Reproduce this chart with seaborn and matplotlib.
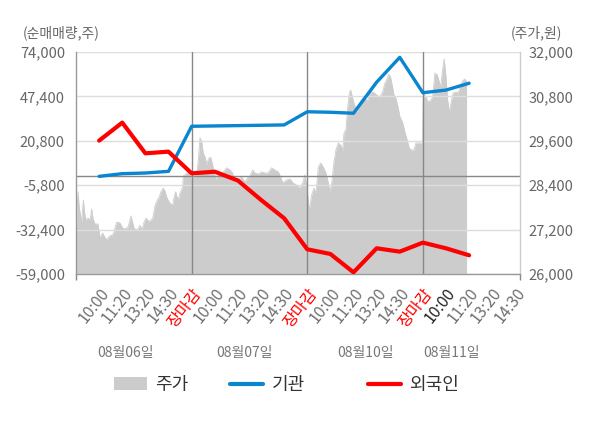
import matplotlib
matplotlib.use('Agg')
import matplotlib.pyplot as plt
import matplotlib.transforms as mtransforms
from matplotlib.patches import Patch
from matplotlib.lines import Line2D
import seaborn as sns

# ---------------- data ----------------
tick_labels = ['10:00', '11:20', '13:20', '14:30', '장마감'] * 3 + ['10:00', '11:20', '13:20', '14:30']
date_labels = ['08월06일', '08월07일', '08월10일', '08월11일']

left_ticks = [-59000, -32400, -5800, 20800, 47400, 74000]
right_ticks = [26000, 27200, 28400, 29600, 30800, 32000]

# net buying (shares) sampled at each time slot
flow_pos = list(range(1, 18))
inst = [-500, 1100, 1500, 2500, 29500, 29700, 29900, 30100, 30300,
        38200, 37900, 37300, 55900, 70800, 49600, 51200, 55300]
foreign = [20900, 31700, 13300, 14300, 1300, 2300, -3000, -14600, -25600,
           -44200, -47000, -58000, -43600, -45600, -40200, -43600, -47800]

# share price (won) along the time slots
price_pos = [0.00, 0.04, 0.09, 0.13, 0.17, 0.24, 0.32, 0.37, 0.43, 0.52, 0.61, 0.68, 0.73, 0.82, 0.95,
             1.01, 1.04, 1.15, 1.21, 1.33, 1.38, 1.50, 1.56, 1.64, 1.76, 1.90, 2.02, 2.08, 2.19, 2.25,
             2.38, 2.42, 2.51, 2.62, 2.68, 2.77, 2.85, 2.94, 3.03, 3.13, 3.20, 3.32, 3.42, 3.52, 3.60,
             3.67, 3.77, 3.85, 3.92, 3.98, 4.06, 4.18, 4.25, 4.31, 4.37, 4.42, 4.50, 4.61, 4.64, 4.71,
             4.79, 4.86, 4.91,
             4.97, 5.10, 5.22, 5.29, 5.36, 5.43, 5.50, 5.58, 5.65, 5.72, 5.82, 5.89, 5.97, 6.05, 6.15,
             6.26, 6.37, 6.52, 6.66, 6.77, 6.87, 7.02, 7.16, 7.31, 7.41, 7.52, 7.64, 7.74, 7.88, 8.03,
             8.17, 8.31, 8.46, 8.60, 8.75, 8.85, 8.94, 9.11, 9.25, 9.39, 9.54, 9.68, 9.80, 9.90, 9.97,
             10.04, 10.09, 10.19, 10.29, 10.38, 10.48, 10.58, 10.69, 10.81, 10.91, 10.98, 11.06, 11.15,
             11.24, 11.34, 11.44, 11.53, 11.59, 11.67, 11.75, 11.82, 11.88, 11.95, 12.02, 12.14, 12.25,
             12.35, 12.49, 12.59, 12.71, 12.85, 13.00, 13.14, 13.26, 13.36, 13.43, 13.53, 13.61, 13.69,
             13.75, 13.83, 13.93, 14.01, 14.08, 14.15, 14.22, 14.32, 14.41, 14.51, 14.61, 14.70, 14.83,
             14.98,
             15.02, 15.13, 15.23, 15.34, 15.42, 15.52, 15.62, 15.71, 15.77, 15.85, 15.92, 16.00, 16.07,
             16.14, 16.24, 16.31, 16.43, 16.53, 16.60, 16.72, 16.82, 16.89]
price = [26650, 27590, 28220, 27860, 27680, 27400, 28000, 27650, 27460, 27510, 27460, 27760, 27510, 27350, 27350,
         27110, 26970, 27110, 27030, 26920, 26970, 27050, 27030, 27140, 27400, 27380, 27240, 27220, 27240, 27270,
         27570, 27460, 27240, 27190, 27220, 27320, 27190, 27400, 27510, 27430, 27430, 27510, 27860, 28000, 28080,
         28220, 28320, 28240, 28080, 28000, 27920, 27860, 28110, 28220, 28080, 28000, 28190, 28350, 28650, 28680,
         28730, 28810, 28650,
         28590, 28620, 28680, 29080, 29680, 29590, 29270, 29160, 28950, 29110, 29160, 29000, 28760, 28540, 28680,
         28620, 28760, 28870, 28810, 28730, 28490, 28570, 28620, 28490, 28590, 28650, 28810, 28730, 28700, 28760,
         28730, 28730, 28870, 28810, 28760, 28620, 28460, 28540, 28570, 28460, 28400, 28320, 28460, 28680, 28400,
         28000, 27730, 28140, 28320, 28190, 28890, 29000, 28890, 28730, 28460, 28220, 28460, 29000,
         29350, 29540, 29490, 29350, 29810, 29890, 30510, 30890, 30970, 30780, 30620, 30380, 30570,
         30700, 30780, 30650, 30890, 30920, 30840, 30780, 30920, 31160, 31240, 31400, 31300, 31050,
         30840, 30760, 30490, 30240, 30160, 30030, 29840, 29620, 29400, 29350, 29350, 29540, 29540,
         29540,
         30920, 30780, 30650, 30700, 30780, 31430, 31380, 31190, 31050, 31510, 31810, 31320, 30700,
         30380, 30700, 30890, 30920, 30890, 31050, 31220, 31270, 31190]

# ---------------- style ----------------
sns.set_theme(style='white')
plt.rcParams['font.family'] = ['Noto Sans CJK KR', 'DejaVu Sans']

BLUE = '#0a85cf'
RED = '#ff0000'
AREA = '#cccccc'
TXT = '#666666'

fig = plt.figure(figsize=(6, 4.28), dpi=100)
fig.patch.set_facecolor('white')
ax = fig.add_axes([76 / 600, 154 / 428, 444 / 600, 222 / 428])
ax2 = ax.twinx()
ax.set_zorder(ax2.get_zorder() + 1)
ax.patch.set_visible(False)
ax2.set_facecolor('#f4f4f4')

# price area (right axis)
ax2.fill_between(price_pos, price, right_ticks[0], color=AREA, lw=0, zorder=1)
sns.lineplot(x=price_pos, y=price, ax=ax2, color=AREA, lw=0.6, sort=False, zorder=2)
ax2.set_ylim(right_ticks[0], right_ticks[-1])
ax2.set_yticks(right_ticks)
ax2.set_yticklabels([f'{v:,}' for v in right_ticks])
ax2.tick_params(axis='y', length=0, pad=6, labelsize=10.5, labelcolor=TXT)
for s in ax2.spines.values():
    s.set_visible(False)
ax2.grid(False)

# flows (left axis)
ax.set_ylim(left_ticks[0], left_ticks[-1])
ax.set_yticks(left_ticks)
ax.set_yticklabels([f'{v:,}' for v in left_ticks])
ax.grid(axis='y', color='#dddddd', lw=1, zorder=0)
ax.grid(axis='x', visible=False)
ax.axhline(0, color='#888888', lw=1, zorder=1)
for b in (5, 10, 15):
    ax.axvline(b, color='#888888', lw=1, zorder=1)

sns.lineplot(x=flow_pos, y=inst, ax=ax, color=BLUE, lw=2.4, sort=False, zorder=4)
sns.lineplot(x=flow_pos, y=foreign, ax=ax, color=RED, lw=3, sort=False, zorder=5)

ax.set_xlim(0, 19.2)
ax.set_xticks(range(1, 20))
ax.set_xticklabels(tick_labels, rotation=52, ha='right', rotation_mode='anchor')
ax.set_xticks([0, 5, 10, 15, 19.2], minor=True)
ax.tick_params(axis='x', which='major', length=0, pad=8, labelsize=11.5, labelcolor='#707070')
ax.tick_params(axis='x', which='minor', length=4, width=1, color='#888888', direction='out', bottom=True)
ax.tick_params(axis='y', length=0, pad=8, labelsize=10.5, labelcolor=TXT)
for i, t in enumerate(ax.get_xticklabels()):
    if tick_labels[i] == '장마감':
        t.set_color(RED)
    elif i == 15:
        t.set_color('#222222')
ax.set_xlabel('')
ax.set_ylabel('')
ax2.set_ylabel('')

ax.spines['top'].set_visible(False)
ax.spines['left'].set_color('#999999')
ax.spines['bottom'].set_color('#999999')
ax.spines['right'].set_color('#cccccc')
for s in ('left', 'bottom', 'right'):
    ax.spines[s].set_linewidth(1)

# axis titles
fig.text(23 / 600, 1 - 33 / 428, '(순매매량,주)', fontsize=10, color=TXT, ha='left', va='center')
fig.text(562 / 600, 1 - 33 / 428, '(주가,원)', fontsize=10, color=TXT, ha='right', va='center')

# date labels
blend = mtransforms.blended_transform_factory(ax.transData, fig.transFigure)
for pos, lab in zip([2.12, 7.3, 12.5, 16.25], date_labels):
    ax.text(pos, 1 - 353 / 428, lab, transform=blend, ha='center', va='center',
            fontsize=10, color='#777777')

# legend
items = [(Patch(facecolor=AREA, edgecolor='none'), '주가', 114),
         (Line2D([], [], color=BLUE, lw=3), '기관', 230),
         (Line2D([], [], color=RED, lw=3), '외국인', 368)]
for h, lab, xp in items:
    fig.legend(handles=[h], labels=[lab], loc='center left', bbox_to_anchor=(xp / 600, 1 - 385 / 428),
               frameon=False, fontsize=13, handlelength=1.8, handletextpad=0.5,
               borderpad=0, borderaxespad=0, labelcolor='#333333')

fig.savefig('out.png', dpi=100, facecolor='white')
